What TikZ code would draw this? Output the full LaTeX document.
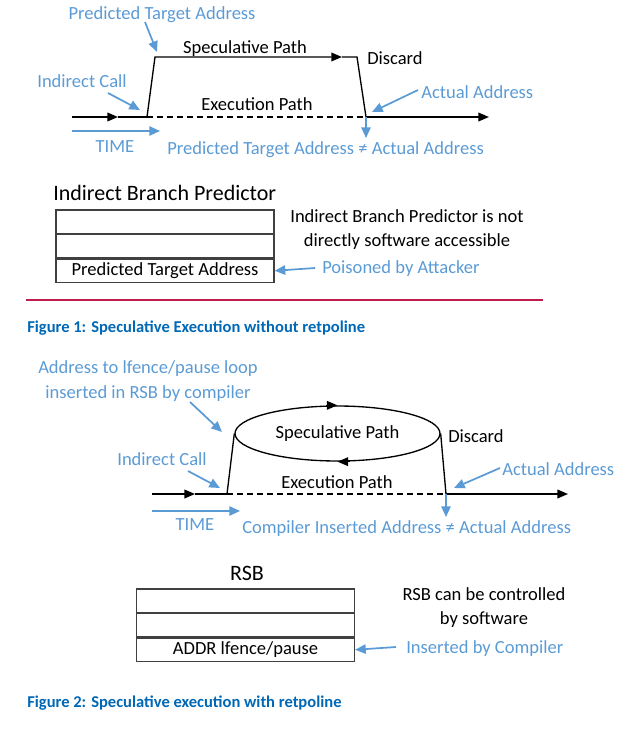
\documentclass[tikz,border=0pt]{standalone}
\usepackage{fontspec}
\setmainfont{Carlito}
\usetikzlibrary{arrows.meta,positioning,shapes.geometric}
\definecolor{lblue}{RGB}{91,155,213}
\definecolor{capblue}{RGB}{0,104,181}
\definecolor{rulered}{RGB}{190,30,75}

\begin{document}
\begin{tikzpicture}[x=0.75pt,y=-0.75pt,
  every node/.style={inner sep=0pt},
  lbl/.style={text=lblue,font=\fontsize{13.9}{17}\selectfont,yshift=-1.2pt},
  txt/.style={font=\fontsize{13.9}{17}\selectfont,yshift=-1.2pt},
  ttl/.style={font=\fontsize{16.5}{20}\selectfont,yshift=-0.8pt},
  figcap/.style={text=capblue,font=\bfseries\fontsize{12.4}{14}\selectfont,anchor=west},
  cell/.style={draw=black!75,line width=0.9pt,minimum width=163.5pt,minimum height=17.5pt,font=\fontsize{13.9}{17}\selectfont},
  tline/.style={line width=1.2pt},
  spath/.style={line width=1pt},
  blk/.style={-{Triangle[length=8pt,width=6.5pt]}},
  bluearr/.style={draw=lblue,line width=1.3pt,-{Triangle[length=8pt,width=7pt]}}]
\useasboundingbox (0,0) rectangle (640,729);

% Figure 1
\coordinate (s1) at (72,117);
\coordinate (m1) at (118,117);
\coordinate (a1) at (147,117);
\coordinate (b1) at (155,57);
\coordinate (c1) at (342,57);
\coordinate (d1) at (357,57);
\coordinate (e1) at (366,117);
\coordinate (f1) at (489,117);
\draw[tline,blk] (s1) -- (m1);
\draw[tline] (m1) -- (a1);
\draw[spath,blk] (a1) -- (b1) -- (c1);
\draw[spath] (c1) -- (d1) -- (e1);
\draw[tline,dash pattern=on 4.5pt off 3pt] (a1) -- (e1);
\draw[tline,blk] (e1) -- (f1);

\node[lbl] (pta1) at (162,13) {Predicted Target Address};
\node[txt] (sp1) at (245,47) {Speculative Path};
\node[txt,anchor=west] (dis1) at (367,57) {Discard};
\node[txt] (ex1) at (257,103) {Execution Path};
\node[lbl] (ic1) at (82,80) {Indirect Call};
\node[lbl,anchor=west] (aa1) at (421,91) {Actual Address};
\node[lbl] (time1) at (115,145) {TIME};
\node[lbl,anchor=west] (ne1) at (167,148) {Predicted Target Address ≠ Actual Address};

\coordinate (pta1a) at (145,22);
\coordinate (pta1b) at (157,52);
\coordinate (ic1a) at (108,93);
\coordinate (ic1b) at (140,110);
\coordinate (aa1a) at (418,90);
\coordinate (aa1b) at (372,112);
\coordinate (dn1) at (366,138);
\coordinate (tm1a) at (72,131);
\coordinate (tm1b) at (160,131);
\draw[bluearr] (pta1a) -- (pta1b);
\draw[bluearr] (ic1a) -- (ic1b);
\draw[bluearr] (aa1a) -- (aa1b);
\draw[bluearr] (e1) -- (dn1);
\draw[bluearr] (tm1a) -- (tm1b);

\node[ttl,anchor=west] (ibp) at (53,192) {Indirect Branch Predictor};
\node[cell] (ra1) at (165,221.7) {};
\node[cell,below=0pt of ra1] (ra2) {};
\node[cell,below=0pt of ra2] (ra3) {Predicted Target Address};
\node[txt,align=center] (na1) at (407,227.5) {Indirect Branch Predictor is not\\[1pt]directly software accessible};
\node[lbl,anchor=west] (poi) at (322,267) {Poisoned by Attacker};
\coordinate (poia) at (315,268);
\draw[bluearr] (poia) -- (ra3.east);

\coordinate (rl1) at (26,300);
\coordinate (rl2) at (543,300);
\draw[rulered,line width=1.3pt] (rl1) -- (rl2);
\node[figcap] (cap1) at (27,328) {Figure 1: Speculative Execution without retpoline};

% Figure 2
\coordinate (s2) at (152,494);
\coordinate (m2) at (195,494);
\coordinate (a2) at (227,494);
\coordinate (e2) at (446,494);
\coordinate (f2) at (568,494);
\node[draw,spath,ellipse,minimum width=153.75pt,minimum height=41.25pt,font=\fontsize{13.9}{17}\selectfont] (ell) at (337.5,433.5) {Speculative Path};
\draw[tline,blk] (s2) -- (m2);
\draw[tline] (m2) -- (a2);
\draw[spath] (a2) -- (ell.west);
\draw[spath] (ell.east) -- (e2);
\draw[tline,dash pattern=on 4.5pt off 3pt] (a2) -- (e2);
\draw[tline,blk] (e2) -- (f2);
\draw[spath,blk] ([xshift=-9pt]ell.north) -- (ell.north);
\draw[spath,blk] ([xshift=9pt]ell.south) -- (ell.south);

\node[lbl,align=center] (adr) at (148,379.5) {Address to lfence/pause loop\\[2pt]inserted in RSB by compiler};
\node[txt,anchor=west] (dis2) at (448,435) {Discard};
\node[txt] (ex2) at (337,481) {Execution Path};
\node[lbl] (ic2) at (162,458) {Indirect Call};
\node[lbl,anchor=west] (aa2) at (502,468) {Actual Address};
\node[lbl] (time2) at (195,523) {TIME};
\node[lbl,anchor=west] (ne2) at (242,527) {Compiler Inserted Address ≠ Actual Address};

\coordinate (adra) at (190,402);
\coordinate (adrb) at (222,432);
\coordinate (ic2a) at (188,471);
\coordinate (ic2b) at (220,488);
\coordinate (aa2a) at (500,468);
\coordinate (aa2b) at (454,488);
\coordinate (dn2) at (446,517);
\coordinate (tm2a) at (152,511);
\coordinate (tm2b) at (240,511);
\draw[bluearr] (adra) -- (adrb);
\draw[bluearr] (ic2a) -- (ic2b);
\draw[bluearr] (aa2a) -- (aa2b);
\draw[bluearr] (e2) -- (dn2);
\draw[bluearr] (tm2a) -- (tm2b);

\node[ttl] (rsb) at (247,572) {RSB};
\node[cell] (rb1) at (245.5,600.7) {};
\node[cell,below=0pt of rb1] (rb2) {};
\node[cell,below=0pt of rb2] (rb3) {ADDR lfence/pause};
\node[txt,align=center] (nb1) at (484,606) {RSB can be controlled\\[1pt]by software};
\node[lbl,anchor=west] (ins) at (406,647) {Inserted by Compiler};
\coordinate (insa) at (396,647);
\draw[bluearr] (insa) -- (rb3.east);

\node[figcap] (cap2) at (27,703) {Figure 2: Speculative execution with retpoline};
\end{tikzpicture}
\end{document}
